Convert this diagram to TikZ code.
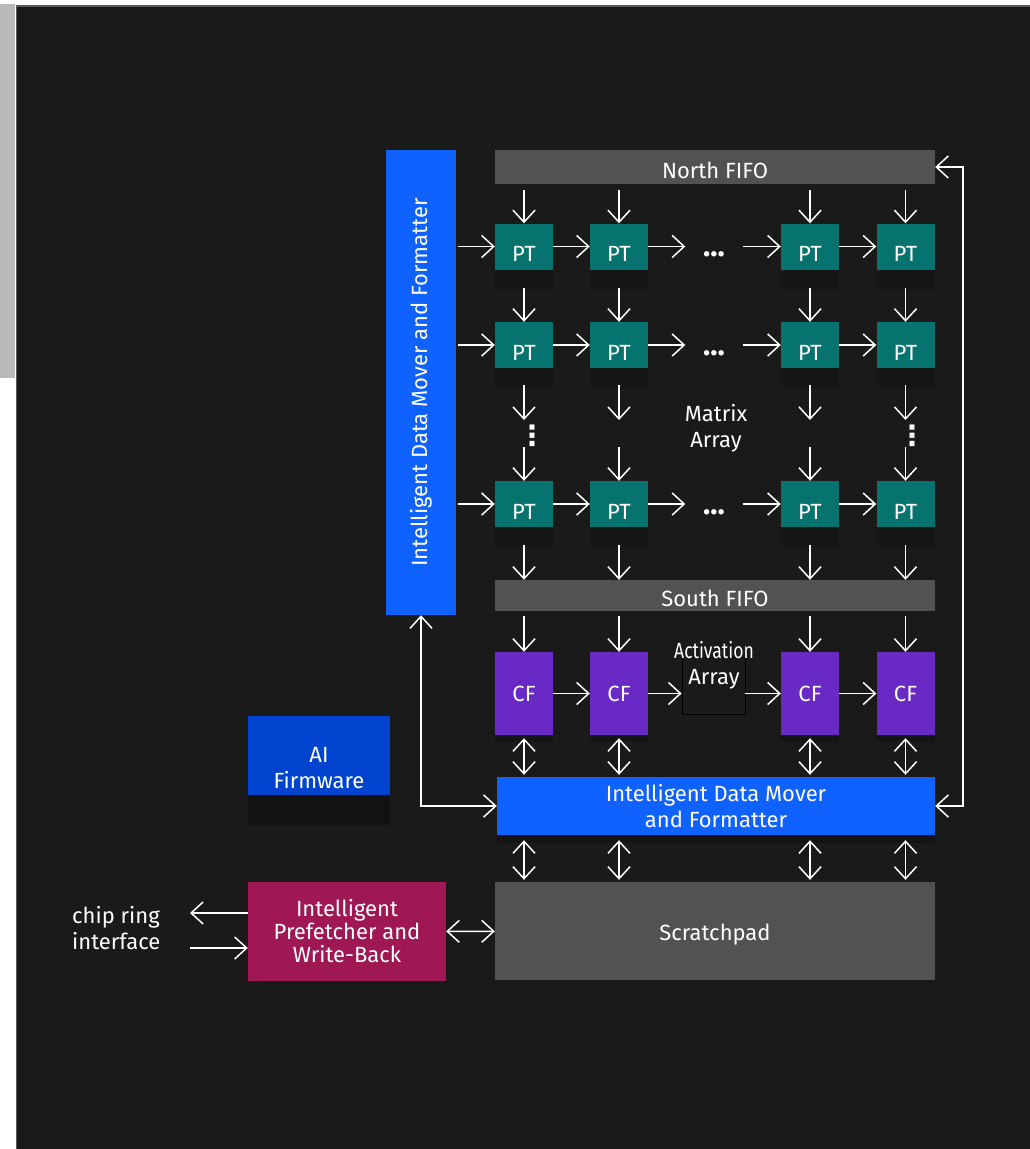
\documentclass[tikz,border=0pt]{standalone}
\usepackage{fontspec}
\setmainfont{Fira Sans}
\newfontfamily\symfont{DejaVu Sans}
\usepackage{xcolor}
\usepackage{tikz}
\usetikzlibrary{arrows.meta, positioning, shadows}
\definecolor{canvas}{HTML}{1A1A1A}
\definecolor{edgegray}{HTML}{5A5A5A}
\definecolor{sidebar}{HTML}{B9B9B9}
\definecolor{fifogray}{HTML}{525252}
\definecolor{moverblue}{HTML}{0F62FE}
\definecolor{fwblue}{HTML}{0043CE}
\definecolor{ptteal}{HTML}{06736F}
\definecolor{cfpurple}{HTML}{6929C4}
\definecolor{fetchred}{HTML}{9F1853}

\begin{document}
\begin{tikzpicture}[x=1pt, y=-1pt, >={Straight Barb[length=12pt,width=22pt]},
    block/.style={rectangle, inner sep=0pt, text=white, align=center, font=\fontsize{22}{26}\selectfont},
    sink/.style={execute at begin node={\rule{0pt}{#1}}},
    fifo/.style={block, fill=fifogray, minimum width=440pt, sink=23pt},
    pt/.style={block, fill=ptteal, minimum width=58pt, minimum height=46pt, sink=30pt, drop shadow={shadow xshift=0pt, shadow yshift=-20pt, opacity=.15, fill=black}},
    cf/.style={block, fill=cfpurple, minimum width=58pt, minimum height=83pt, drop shadow={shadow xshift=0pt, shadow yshift=-6pt, opacity=.2, fill=black}},
    vdots/.style={block, font={\fontsize{28}{28}\symfont\bfseries}},
    link/.style={->, white, line width=1.5pt},
    twoway/.style={link, <->}]
    % frame
    \useasboundingbox (0,0) rectangle (1030,1149);
    \fill[white] (0,0) rectangle (1030,1149);
    \fill[sidebar] (0,4) rectangle (15,378);
    \fill[edgegray] (15.5,5) rectangle (1030,1149);
    \fill[canvas] (17,6.5) rectangle (1030,1149);

    % blocks
    \node (idml) [block, fill=moverblue, minimum width=70pt, minimum height=465pt] at (421,382.5) {\rotatebox{90}{Intelligent Data Mover and Formatter}};
    \node (north) [fifo, minimum height=34pt] at (715,167) {North FIFO};
    \foreach \r/\y in {1/246.5, 2/345, 3/504} {
        \foreach \c/\x in {1/524, 2/619, 3/810, 4/905.5} {
            \node (pt-\r-\c) [pt] at (\x,\y) {PT};
        }
        \node (dots-\r) [block, minimum width=57pt, sink=34pt, font=\fontsize{30}{30}\selectfont\bfseries] at (714,\y) {···};
    }
    \node (vdots-1) [vdots] at (532,436) {⋮};
    \node (vdots-4) [vdots] at (912,436) {⋮};
    \node (matrix) [block] at (716,428) {Matrix\\Array};
    \node (south) [fifo, minimum height=31pt] at (715,595.5) {South FIFO};
    \foreach \c/\x in {1/524, 2/619, 3/810, 4/905.5} {
        \node (cf-\c) [cf] at (\x,693.5) {CF};
    }
    \node (act) [draw=black, line width=.8pt, minimum width=63pt, minimum height=57pt] at (713.5,685.5) {};
    \node (actlabel) [block] at (714,665) {\scalebox{.8}[1]{Activation}\\Array};
    \node (idmb) [block, fill=moverblue, minimum width=438pt, minimum height=58pt, sink=33pt, drop shadow={shadow xshift=0pt, shadow yshift=-8pt, opacity=.2, fill=black}] at (716,806) {Intelligent Data Mover\\and Formatter};
    \node (scratch) [fifo, minimum height=98pt] at (715,931) {Scratchpad};
    \node (firmware) [block, fill=fwblue, minimum width=142pt, minimum height=79pt, sink=67pt, drop shadow={shadow xshift=0pt, shadow yshift=-30pt, opacity=.3, fill=black}] at (319,755.5) {AI\\Firmware};
    \node (fetch) [block, fill=fetchred, minimum width=198pt, minimum height=99pt, font=\fontsize{22}{23}\selectfont] at (347,931.5) {Intelligent\\Prefetcher and\\Write-Back};
    \node (ring) [block, align=left, anchor=west] at (72,928) {chip ring\\interface};
    \coordinate (ringout) at (190,913);
    \coordinate (ringin) at (190,948);

    % matrix array links
    \foreach \r in {1,2,3} {
        \draw [link, shorten <=2pt] (idml.east |- pt-\r-1) -- (pt-\r-1);
        \draw [link] (pt-\r-1) -- (pt-\r-2);
        \draw [link] (pt-\r-2) -- (dots-\r);
        \draw [link] (dots-\r) -- (pt-\r-3);
        \draw [link] (pt-\r-3) -- (pt-\r-4);
    }
    \foreach \c in {1,2,3,4} {
        \path (pt-2-\c.center) ++(0,88) coordinate (gap-\c);
        \draw [link, shorten <=6pt] (north.south -| pt-1-\c) -- (pt-1-\c);
        \draw [link, shorten <=18pt] (pt-1-\c) -- (pt-2-\c);
        \draw [link, shorten <=17pt, shorten >=13pt] (pt-2-\c) -- (gap-\c);
        \draw [link, shorten <=14pt] (gap-\c) -- (pt-3-\c);
        \draw [link, shorten <=18pt] (pt-3-\c) -- (south.north -| pt-3-\c);
        \draw [link, shorten <=5pt] (south.south -| cf-\c) -- (cf-\c);
        \draw [twoway, shorten <=3pt, shorten >=2pt] (cf-\c) -- (idmb.north -| cf-\c);
        \draw [twoway, shorten <=5pt, shorten >=2pt] (idmb.south -| cf-\c) -- (scratch.north -| cf-\c);
    }

    % activation array links
    \draw [link] (cf-1) -- (cf-2);
    \draw [link] (cf-2.east) -- (cf-2.east -| act.west);
    \draw [link] (cf-3.west -| act.east) -- (cf-3.west);
    \draw [link] (cf-3) -- (cf-4);

    % loops and outside links
    \draw [twoway] (north.east) -- ++(28,0) |- (idmb.east);
    \draw [twoway] (idml.south) |- (idmb.west);
    \draw [twoway] (fetch) -- (scratch);
    \draw [link] (fetch.west |- ringout) -- (ringout);
    \draw [link] (ringin) -- (ringin -| fetch.west);
\end{tikzpicture}
\end{document}
